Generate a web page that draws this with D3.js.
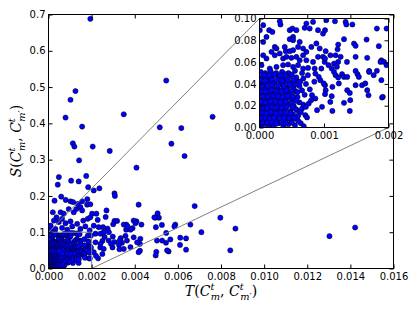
<!DOCTYPE html>
<html>
<head>
<meta charset="utf-8">
<script src="https://cdn.jsdelivr.net/npm/d3@7"></script>
<style>
body { margin: 0; background: #fff; }
</style>
</head>
<body>
<div id="chart"></div>
<script>
"use strict"

/* Values, as [T, S] pairs */
let outerPoints = [
    [0.00194,0.688],[0.00546,0.518],[0.00125,0.489],[0.00102,0.465],[0.00079,0.416],[0.00349,0.425],
    [0.00156,0.391],[0.00761,0.418],[0.00516,0.389],[0.00616,0.387],[0.00113,0.345],[0.0012,0.336],
    [0.00205,0.336],[0.0057,0.344],[0.00631,0.31],[0.00284,0.324],[0.00142,0.298],[0.00408,0.278],
    [0.00048,0.252],[0.00043,0.231],[0.00105,0.242],[0.0014,0.24],[0.00175,0.255],[0.00184,0.224],
    [0.0021,0.215],[0.00236,0.221],[0.00306,0.207],[0.00308,0.2],[0.00418,0.176],[0.00678,0.172],
    [0.00797,0.14],[0.00867,0.11],[0.00843,0.05],[0.00709,0.1],[0.00658,0.121],[0.00638,0.083],
    [0.00638,0.052],[0.00611,0.085],[0.0061,0.065],[0.00588,0.121],[0.00584,0.116],[0.00565,0.08],
    [0.00557,0.047],[0.00546,0.098],[0.00545,0.071],[0.00526,0.12],[0.00506,0.152],[0.00512,0.14],
    [0.00495,0.14],[0.00498,0.114],[0.00503,0.077],[0.005,0.046],[0.00497,0.036],[0.01303,0.089],
    [0.01422,0.113]
];

let midPoints = [
    [0.00426,0.082],[0.00424,0.068],[0.00424,0.049],[0.00431,0.121],[0.00408,0.13],[0.0039,0.111],
    [0.0038,0.107],[0.00361,0.121],[0.0036,0.107],[0.00349,0.121],[0.00357,0.09],[0.00364,0.077],
    [0.00335,0.084],[0.00341,0.071],[0.00327,0.065],[0.00329,0.053],[0.00306,0.131],[0.00318,0.131],
    [0.003,0.122],[0.00298,0.088],[0.00306,0.073],[0.00297,0.058],[0.00269,0.16],[0.00265,0.142],
    [0.00274,0.11],[0.0028,0.1],[0.0026,0.087],[0.0025,0.076],[0.0024,0.058],[0.0025,0.04],
    [0.0023,0.028],[0.00202,0.151],[0.00222,0.151],[0.00228,0.134],[0.0021,0.118],[0.00233,0.114],
    [0.00253,0.114],[0.00218,0.096],[0.00241,0.096],[0.00256,0.1],[0.00218,0.072],[0.00241,0.068],
    [0.00256,0.054],[0.00279,0.077],[0.0029,0.068],[0.0033,0.077],[0.00349,0.054],[0.0038,0.059],
    [0.00395,0.086],[0.00411,0.072],[0.00418,0.045],[0.00367,0.116],[0.00395,0.132],[0.00403,0.125],
    [0.00491,0.141],[0.00527,0.077],[0.0055,0.05],[0.0021,0.045],[0.0022,0.035]
];

let upperLeftPoints = [
    [0.00028,0.187],[0.00059,0.198],[0.0008,0.189],[0.00102,0.185],[0.00114,0.183],[0.00136,0.178],
    [0.00156,0.185],[0.00179,0.176],[0.0002,0.155],[0.00037,0.141],[0.00056,0.155],[0.00071,0.151],
    [0.00094,0.164],[0.00117,0.155],[0.00129,0.164],[0.00148,0.169],[0.00156,0.16],[0.0018,0.191],
    [0.00194,0.177],[0.00161,0.132],[0.00182,0.137],[0.00194,0.141],[0.00025,0.132],[0.00048,0.128],
    [0.00063,0.137],[0.00079,0.125],[0.00102,0.13],[0.00133,0.123],[0.00009,0.105],[0.00032,0.109],
    [0.00063,0.112],[0.00087,0.107],[0.0011,0.116],[0.00148,0.109],[0.00171,0.116],[0.00191,0.105],
    [0.0001,0.118]
];

let insetTopPoints = [
    [0.000005,0.0893],[0.00015,0.0893],[0.0002,0.0877],[0.000057,0.0939],[0.000314,0.0975],[0.000325,0.0945],
    [0.000108,0.0831],[0.000057,0.0785],[0.000237,0.0739],[0.000263,0.0725],[0.000186,0.0694],[0.000391,0.0739],
    [0.000469,0.0893],[0.00051,0.0908],[0.000572,0.0893],[0.0007,0.0914],[0.000778,0.0908],[0.000727,0.0954],
    [0.00083,0.0969],[0.000907,0.0893],[0.000985,0.0862],[0.000521,0.0831],[0.000469,0.081],[0.000521,0.0801],
    [0.000623,0.0785],[0.000407,0.07],[0.000469,0.07],[0.000521,0.0709],[0.000598,0.0739],[0.000676,0.0725],
    [0.000727,0.0694],[0.000804,0.0739],[0.000882,0.0771],[0.000933,0.0725],[0.000985,0.0648],[0.000057,0.0663],
    [0.000108,0.0633],[0.000237,0.0663],[0.000314,0.0679],[0.000366,0.0633],[0.000418,0.0648],[0.000495,0.0639],
    [0.000572,0.0648],[0.000623,0.0617],[0.000676,0.0663],[0.000727,0.0617],[0.00083,0.0602],[0.000907,0.0648],
    [0.00101,0.0602],[0.000031,0.0572],[0.000159,0.0541],[0.000263,0.0556],[0.000366,0.0572],[0.000443,0.0578],
    [0.000521,0.0556],[0.000598,0.0572],[0.000676,0.0541],[0.000753,0.0547],[0.000855,0.0541],[0.000959,0.0541],
    [0.001016,0.0893],[0.00117,0.0975],[0.001335,0.0969],[0.001346,0.0945],[0.00144,0.0945],[0.00182,0.0908],
    [0.00197,0.0908],[0.00131,0.081],[0.001465,0.077],[0.00149,0.0749],[0.00166,0.0807],[0.00185,0.0746],
    [0.00122,0.0761],[0.00121,0.0718],[0.00118,0.0663],[0.001258,0.0648],[0.00122,0.0602],[0.001155,0.0587],
    [0.001026,0.07],[0.0011,0.0663],[0.001016,0.0633],[0.00107,0.0572],[0.00149,0.0648],[0.00167,0.0639],
    [0.00189,0.0617],[0.001876,0.0602],[0.00193,0.0602],[0.0017,0.0519],[0.00149,0.0519],[0.001036,0.0985],
    [0.001356,0.0602],[0.00197,0.0572],[0.00182,0.052],[0.00112,0.0541],[0.0012,0.0557]
];

let insetLowPoints = [
    [0.001155,0.051],[0.00118,0.048],[0.00122,0.0459],[0.00128,0.0489],[0.00131,0.0464],[0.00136,0.0464],
    [0.00152,0.0489],[0.00154,0.0464],[0.0017,0.051],[0.00177,0.048],[0.00189,0.0434],[0.00149,0.0388],
    [0.00159,0.0388],[0.00164,0.0404],[0.00167,0.0342],[0.00169,0.0296],[0.001016,0.0388],[0.001026,0.0342],
    [0.001016,0.0306],[0.00113,0.0373],[0.00112,0.0287],[0.00123,0.0404],[0.00136,0.0342],[0.0014,0.0317],
    [0.0019,0.0275],[0.00131,0.0226],[0.00113,0.0152],[0.0014,0.0152],[0.001098,0.0235],[0.001407,0.0251],
    [0.001912,0.0281],[0.000763,0.022],[0.000892,0.0159],[0.000969,0.019],[0.000711,0.0113],[0.000737,0.0092],
    [0.000686,0.0012],[0.00066,0.0174],[0.000582,0.0159],[0.000814,0.0297],[0.000866,0.0266],[0.000918,0.0465],
    [0.000943,0.0434],[0.000995,0.0404],[0.000866,0.0495],[0.00072,0.04],[0.00078,0.035],[0.00068,0.045],
    [0.00085,0.042],[0.0008,0.025],[0.0007,0.03],[0.00075,0.048]
];

let corePoints = [
    [0.00002,0.002],[0.00008,0.003],[0.00015,0.001],[0.00022,0.002],[0.0003,0.004],[0.00037,0.001],[0.00045,0.003],[0.00055,0.002],[0.00064,0.004],
    [0.00004,0.007],[0.00011,0.006],[0.00019,0.008],[0.00026,0.006],[0.00033,0.008],[0.00041,0.007],[0.0005,0.006],[0.00058,0.008],
    [0.00001,0.011],[0.00007,0.012],[0.00014,0.01],[0.00021,0.012],[0.00029,0.011],[0.00036,0.012],[0.00044,0.01],[0.00052,0.012],[0.0006,0.011],
    [0.00003,0.016],[0.0001,0.015],[0.00018,0.017],[0.00025,0.015],[0.00032,0.016],[0.0004,0.017],[0.00048,0.015],[0.00056,0.017],[0.00068,0.021],
    [0.00001,0.021],[0.00008,0.02],[0.00015,0.022],[0.00022,0.021],[0.0003,0.02],[0.00037,0.022],[0.00045,0.021],[0.00053,0.02],[0.00062,0.023],[0.00072,0.019],
    [0.00004,0.026],[0.00012,0.025],[0.00019,0.027],[0.00027,0.026],[0.00034,0.025],[0.00042,0.027],[0.0005,0.026],[0.00059,0.028],
    [0.00002,0.031],[0.00009,0.03],[0.00016,0.032],[0.00024,0.031],[0.00031,0.03],[0.00039,0.032],[0.00047,0.031],[0.00056,0.033],[0.00066,0.034],
    [0.00005,0.036],[0.00012,0.035],[0.0002,0.037],[0.00028,0.036],[0.00036,0.035],[0.00044,0.037],[0.00053,0.036],[0.00062,0.038],
    [0.00001,0.041],[0.00008,0.04],[0.00016,0.042],[0.00023,0.041],[0.00033,0.04],[0.00041,0.042],[0.0005,0.041],[0.00058,0.043],
    [0.00004,0.046],[0.00012,0.045],[0.0002,0.047],[0.00029,0.046],[0.00038,0.045],[0.00047,0.047],[0.00057,0.046],
    [0.00002,0.051],[0.00009,0.05],[0.00017,0.052],[0.00026,0.05],[0.00035,0.051],[0.00045,0.05],[0.00055,0.052],[0.00066,0.05]
];

let coreExtraPoints = [
    [0.00005,0.0045],[0.00012,0.004],[0.00019,0.005],[0.00026,0.0035],[0.00034,0.005],[0.00041,0.004],[0.0005,0.0045],[0.0006,0.006],
    [0.00002,0.0085],[0.00009,0.009],[0.00016,0.0085],[0.00023,0.009],[0.00031,0.0085],[0.00038,0.009],[0.00046,0.0085],[0.00054,0.009],
    [0.00004,0.0135],[0.00011,0.013],[0.00018,0.014],[0.00025,0.013],[0.00033,0.014],[0.0004,0.0135],[0.00048,0.013],[0.00064,0.014],
    [0.00005,0.0185],[0.00012,0.018],[0.00019,0.019],[0.00027,0.0185],[0.00034,0.018],[0.00042,0.019],[0.00051,0.0185],
    [0.00002,0.0235],[0.00009,0.023],[0.00017,0.024],[0.00025,0.0235],[0.00033,0.023],[0.00041,0.024],[0.00049,0.023],[0.00057,0.0245],
    [0.00006,0.0285],[0.00013,0.028],[0.00021,0.029],[0.00029,0.0285],[0.00036,0.028],[0.00044,0.029],[0.00052,0.0285],
    [0.00002,0.0335],[0.0001,0.033],[0.00018,0.034],[0.00026,0.0335],[0.00034,0.033],[0.00042,0.034],[0.0005,0.0335],[0.00059,0.0325],
    [0.00004,0.0385],[0.00012,0.038],[0.0002,0.039],[0.00029,0.0385],[0.00038,0.038],[0.00047,0.039],[0.00055,0.0395],
    [0.00002,0.0435],[0.0001,0.043],[0.00019,0.044],[0.00027,0.0435],[0.00035,0.043],[0.00044,0.044],[0.00053,0.0435],[0.00063,0.042],
    [0.00007,0.0485],[0.00015,0.048],[0.00023,0.049],[0.00032,0.048],[0.0004,0.049],[0.0005,0.0485]
];

let xTickValues = [0, 0.002, 0.004, 0.006, 0.008, 0.010, 0.012, 0.014, 0.016];
let yTickValues = [0, 0.1, 0.2, 0.3, 0.4, 0.5, 0.6, 0.7];
let insetXTicks = [0, 0.001, 0.002];
let insetYTicks = [0, 0.02, 0.04, 0.06, 0.08, 0.10];

let allPoints = outerPoints.concat(midPoints, upperLeftPoints, insetTopPoints, insetLowPoints, corePoints, coreExtraPoints);

let drawing = d3.select("#chart")
    .append("svg")
    .attr("width", 415)
    .attr("height", 312);

/* Scales */
let x = d3.scaleLinear().domain([0, 0.016]).range([48.5, 393.5]);
let y = d3.scaleLinear().domain([0, 0.7]).range([268.5, 14.5]);
let ix = d3.scaleLinear().domain([0, 0.002]).range([259.5, 388.5]);
let iy = d3.scaleLinear().domain([0, 0.1]).range([127.5, 18.5]);

let defs = drawing.append("defs");
defs.append("clipPath").attr("id", "mainClip").append("rect")
    .attr("x", x(0)).attr("y", y(0.7))
    .attr("width", x(0.016) - x(0)).attr("height", y(0) - y(0.7));
defs.append("clipPath").attr("id", "insetClip").append("rect")
    .attr("x", ix(0)).attr("y", iy(0.1))
    .attr("width", ix(0.002) - ix(0)).attr("height", iy(0) - iy(0.1));

function styleAxis(g, fontSize) {
    g.select(".domain").remove();
    g.selectAll(".tick line").attr("stroke", "#000").attr("stroke-width", 1);
    g.selectAll(".tick text")
        .attr("fill", "#000")
        .style("font-family", "'DejaVu Sans', sans-serif")
        .style("font-size", fontSize + "px");
}

function drawAxes(sx, sy, xt, yt, xf, yf) {
    let x0 = sx.range()[0], x1 = sx.range()[1];
    let y0 = sy.range()[0], y1 = sy.range()[1];
    drawing.append("g").attr("transform", `translate(0,${y0})`)
        .call(d3.axisBottom(sx).tickValues(xt).tickFormat(d3.format(xf)).tickSizeInner(-4).tickSizeOuter(0).tickPadding(4))
        .call(g => styleAxis(g, 10));
    drawing.append("g").attr("transform", `translate(0,${y1})`)
        .call(d3.axisTop(sx).tickValues(xt).tickFormat("").tickSizeInner(-4).tickSizeOuter(0))
        .call(g => styleAxis(g, 10));
    drawing.append("g").attr("transform", `translate(${x0},0)`)
        .call(d3.axisLeft(sy).tickValues(yt).tickFormat(d3.format(yf)).tickSizeInner(-4).tickSizeOuter(0).tickPadding(3))
        .call(g => styleAxis(g, 10));
    drawing.append("g").attr("transform", `translate(${x1},0)`)
        .call(d3.axisRight(sy).tickValues(yt).tickFormat("").tickSizeInner(-4).tickSizeOuter(0))
        .call(g => styleAxis(g, 10));
    drawing.append("rect")
        .attr("x", x0).attr("y", y1)
        .attr("width", x1 - x0).attr("height", y0 - y1)
        .attr("fill", "none").attr("stroke", "#000").attr("stroke-width", 1);
}

/* Main scatter */
drawing.append("g").attr("clip-path", "url(#mainClip)")
    .selectAll("circle")
    .data(allPoints)
    .join("circle")
    .attr("cx", d => x(d[0]))
    .attr("cy", d => y(d[1]))
    .attr("r", 2.6)
    .attr("fill", "#0000ff")
    .attr("stroke", "#000")
    .attr("stroke-width", 0.5);

/* Zoomed region and connectors */
drawing.append("rect")
    .attr("x", x(0)).attr("y", y(0.1))
    .attr("width", x(0.002) - x(0)).attr("height", y(0) - y(0.1))
    .attr("fill", "none").attr("stroke", "#808080").attr("stroke-width", 1);
drawing.append("line")
    .attr("x1", x(0)).attr("y1", y(0.1)).attr("x2", ix(0)).attr("y2", iy(0.1))
    .attr("stroke", "#808080").attr("stroke-width", 1);
drawing.append("line")
    .attr("x1", x(0.002)).attr("y1", y(0)).attr("x2", ix(0.002)).attr("y2", iy(0))
    .attr("stroke", "#808080").attr("stroke-width", 1);

drawAxes(x, y, xTickValues, yTickValues, ".3f", ".1f");

/* Inset */
drawing.append("rect")
    .attr("x", ix(0)).attr("y", iy(0.1))
    .attr("width", ix(0.002) - ix(0)).attr("height", iy(0) - iy(0.1))
    .attr("fill", "#fff");
drawing.append("g").attr("clip-path", "url(#insetClip)")
    .selectAll("circle")
    .data(allPoints)
    .join("circle")
    .attr("cx", d => ix(d[0]))
    .attr("cy", d => iy(d[1]))
    .attr("r", 2.6)
    .attr("fill", "#0000ff")
    .attr("stroke", "#000")
    .attr("stroke-width", 0.5);
drawAxes(ix, iy, insetXTicks, insetYTicks, ".3f", ".2f");

/* Axis titles written like mathtext */
function mathLabel(text, head) {
    let parts = [
        [head, true, 0, 0, 1], ["(", false, 0, 0, 1], ["C", true, 0, 0, 1],
        ["t", true, 0, -6, 0.7], ["m", true, -3.5, 10, 0.7], [",", false, 0, -4, 1],
        [" C", true, 0, 0, 1], ["t", true, 0, -6, 0.7], ["m\u2032", true, -3.5, 10, 0.7],
        [")", false, 0, -4, 1]
    ];
    parts.forEach(p => {
        text.append("tspan")
            .text(p[0])
            .attr("font-style", p[1] ? "italic" : "normal")
            .attr("dx", p[2])
            .attr("dy", p[3])
            .attr("font-size", (14 * p[4]) + "px");
    });
}

let xTitle = drawing.append("text")
    .attr("x", 221).attr("y", 296)
    .attr("text-anchor", "middle")
    .style("font-family", "'DejaVu Serif', serif");
mathLabel(xTitle, "T");

let yTitle = drawing.append("text")
    .attr("transform", "translate(21,141) rotate(-90)")
    .attr("text-anchor", "middle")
    .style("font-family", "'DejaVu Serif', serif");
mathLabel(yTitle, "S");
</script>
</body>
</html>
